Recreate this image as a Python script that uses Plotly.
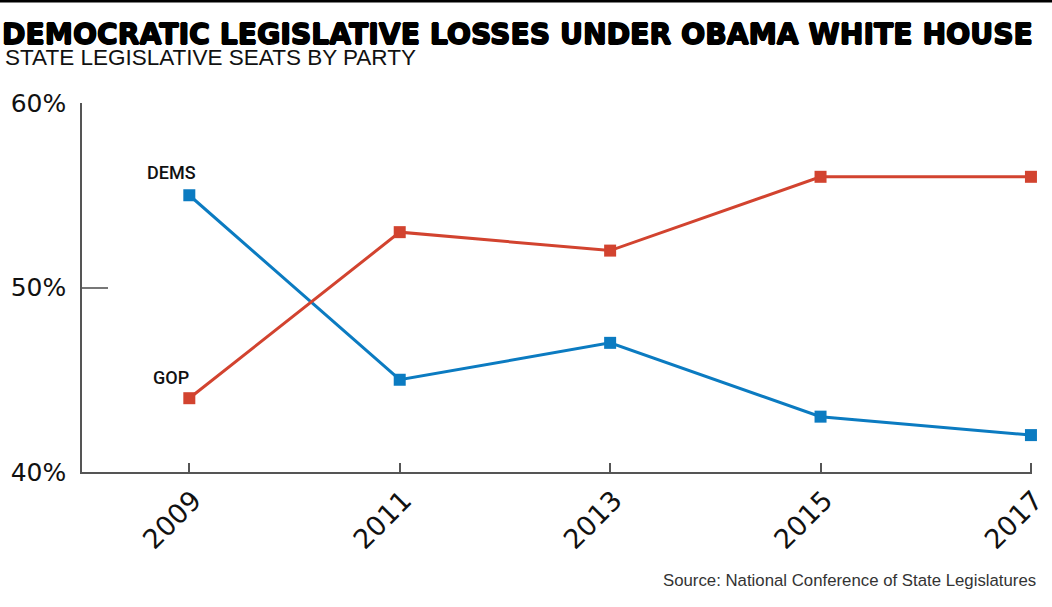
import plotly.graph_objects as go

years = [2009, 2011, 2013, 2015, 2017]
dems = [55, 45, 47, 43, 42]
gop = [44, 53, 52, 56, 56]
y_ticks = [40, 50, 60]
y_labels = ["40%", "50%", "60%"]

blue = "#0b7bc1"
red = "#d2432f"
axis_gray = "#555555"

fig = go.Figure()

fig.add_trace(go.Scatter(x=years, y=dems, mode="lines+markers", name="DEMS",
                         line=dict(color=blue, width=3),
                         marker=dict(symbol="square", size=12, color=blue),
                         cliponaxis=False))
fig.add_trace(go.Scatter(x=years, y=gop, mode="lines+markers", name="GOP",
                         line=dict(color=red, width=3),
                         marker=dict(symbol="square", size=12, color=red),
                         cliponaxis=False))

# series labels next to the first point
fig.add_annotation(x=years[0], y=dems[0], text="DEMS", showarrow=False,
                   xshift=-18, yshift=23, font=dict(family="Roboto", size=18, color="#111111", weight=500))
fig.add_annotation(x=years[0], y=gop[0], text="GOP", showarrow=False,
                   xshift=-18, yshift=21, font=dict(family="Roboto", size=18, color="#111111", weight=500))

# title, subtitle, source
fig.add_annotation(xref="paper", yref="paper", x=-0.0863, y=1.1866, xanchor="left", yanchor="middle",
                   text="DEMOCRATIC LEGISLATIVE LOSSES UNDER OBAMA WHITE HOUSE", showarrow=False,
                   font=dict(family="DejaVu Sans", size=28.3, color="black", weight="bold",
                             shadow="0.8px 0 0 black, -0.8px 0 0 black, 0 0.6px 0 black, 0 -0.6px 0 black"))
fig.add_annotation(xref="paper", yref="paper", x=-0.0832, y=1.122, xanchor="left", yanchor="middle",
                   text="STATE LEGISLATIVE SEATS BY PARTY", showarrow=False,
                   font=dict(family="Liberation Sans", size=22.5, color="#111111"))
fig.add_annotation(xref="paper", yref="paper", x=1.0065, y=-0.293, xanchor="right", yanchor="middle",
                   text="Source: National Conference of State Legislatures", showarrow=False,
                   font=dict(family="Liberation Sans", size=16.8, color="#333333"))

# thin rule at the very top
fig.add_shape(type="line", xref="paper", yref="paper", x0=-0.09, x1=1.03, y0=1.2759, y1=1.2759,
              line=dict(color="black", width=2.5))

fig.update_xaxes(range=[2007.98, 2017.01], tickvals=years, ticktext=[str(y) for y in years],
                 tickangle=-45, ticks="inside", ticklen=9, tickcolor=axis_gray, tickwidth=1.5,
                 showline=True, linecolor=axis_gray, linewidth=1.5, showgrid=False, zeroline=False,
                 automargin=False, ticklabelshift=4, ticklabelstandoff=0,
                 tickfont=dict(family="DejaVu Sans", size=27, color="#111111"))
fig.update_yaxes(range=[40, 60], tickvals=y_ticks, ticktext=y_labels,
                 ticks="inside", ticklen=26, tickcolor="#777777", tickwidth=1.5,
                 showline=True, linecolor=axis_gray, linewidth=1.5, showgrid=False, zeroline=False,
                 automargin=False, ticklabelstandoff=9,
                 tickfont=dict(family="DejaVu Sans", size=25, color="#111111"))

fig.update_layout(width=1052, height=607, plot_bgcolor="white", paper_bgcolor="white",
                  showlegend=False, margin=dict(l=82, r=20, t=103, b=135))

fig.write_html("out.html", config={"displayModeBar": False},
               post_script="document.body.style.margin = '0';")
